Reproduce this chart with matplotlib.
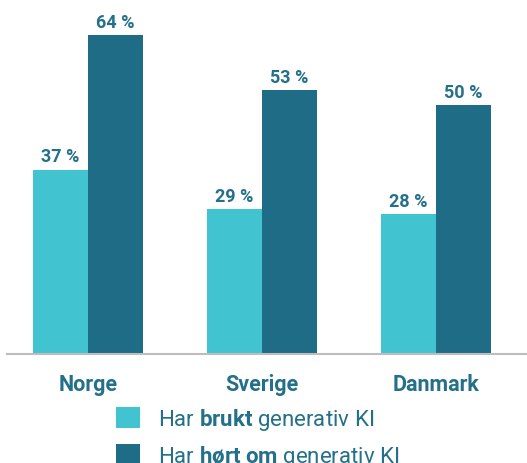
import numpy as np
import matplotlib
matplotlib.use("Agg")
import matplotlib.pyplot as plt

plt.rcParams['font.family'] = ['Roboto', 'DejaVu Sans']
plt.rcParams['mathtext.fontset'] = 'custom'
plt.rcParams['mathtext.rm'] = 'Roboto'
plt.rcParams['mathtext.bf'] = 'Roboto:bold'

countries = ['Norge', 'Sverige', 'Danmark']
brukt = [37, 29, 28]
hort_om = [64, 53, 50]
legend_labels = ['Har $\\mathbf{brukt}$ generativ KI',
                 'Har $\\mathbf{hørt}$ $\\mathbf{om}$ generativ KI']

light = '#42C3D0'
dark = '#1F6C87'
txt = '#24708A'

fig = plt.figure(figsize=(5.27, 4.64), dpi=100)
ax = fig.add_axes([7/527, 109/464, 520/527, 355/464])

x = np.arange(len(countries))
w = 0.316
b1 = ax.bar(x - w/2, brukt, w, color=light, label=legend_labels[0])
b2 = ax.bar(x + w/2, hort_om, w, color=dark, label=legend_labels[1])

for bars in (b1, b2):
    ax.bar_label(bars, fmt='{:.0f} %', padding=3, fontsize=13,
                 fontweight='bold', color=txt)

ax.set_xlim(-0.466, 2.523)
ax.set_ylim(0, 71.2)
ax.set_xticks(x, countries)
ax.tick_params(axis='x', length=0, pad=14, labelsize=15.5, labelcolor=txt)
for lbl in ax.get_xticklabels():
    lbl.set_fontweight('bold')
ax.set_yticks([])
for s in ['top', 'right', 'left']:
    ax.spines[s].set_visible(False)
ax.spines['bottom'].set_color('#bdbdbd')
ax.spines['bottom'].set_linewidth(1.5)

fig.legend(handles=[b1, b2], labels=legend_labels, loc='upper left',
           bbox_to_anchor=(116/527, 1 - 407/464), frameon=False,
           fontsize=16, labelcolor=txt, handlelength=1.1, handleheight=1.1,
           handletextpad=0.8, labelspacing=0.5, borderpad=0, borderaxespad=0)

fig.savefig('out.png', dpi=100)
